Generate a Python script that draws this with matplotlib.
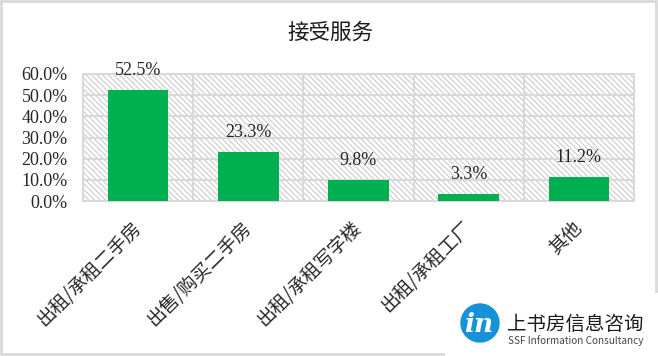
import matplotlib.pyplot as plt
import matplotlib.patches as patches
import matplotlib.ticker as ticker
import matplotlib.transforms as mtransforms

categories = ['出租/承租二手房', '出售/购买二手房', '出租/承租写字楼', '出租/承租工厂', '其他']
values = [52.5, 23.3, 9.8, 3.3, 11.2]
yticks = [0, 10, 20, 30, 40, 50, 60]

plt.rcParams['font.family'] = ['Noto Sans CJK SC', 'DejaVu Sans']
plt.rcParams['hatch.linewidth'] = 0.8
plt.rcParams['hatch.color'] = '#cccccc'

W, H = 658, 356
fig = plt.figure(figsize=(W / 100, H / 100), dpi=100)
ax = fig.add_axes([83 / W, 1 - 201 / H, 551 / W, 127 / H])

# hatched plot-area background
bg = patches.Rectangle((0, 0), 1, 1, transform=ax.transAxes, facecolor='white',
                       edgecolor='#cccccc', hatch='\\' * 6, linewidth=0, zorder=0)
ax.add_patch(bg)

x = list(range(len(categories)))
ax.bar(x, values, width=0.55, color='#00B050', zorder=3)
for xi, v in zip(x, values):
    ax.annotate(f'{v:.1f}%', (xi, v), xytext=(0, 8), textcoords='offset points',
                ha='center', va='bottom', fontsize=13, family=['Liberation Serif'],
                color='#262626', zorder=4)

ax.set_xlim(-0.5, len(categories) - 0.5)
ax.set_ylim(0, 60)
ax.set_yticks(yticks)
ax.yaxis.set_major_formatter(ticker.FuncFormatter(lambda v, p: f'{v:.1f}%'))
for lab in ax.get_yticklabels():
    lab.set_family(['Liberation Serif'])
    lab.set_fontsize(13)
    lab.set_color('#262626')

ax.set_xticks(x)
ax.set_xticklabels(categories, rotation=45, ha='right', va='center',
                   rotation_mode='anchor', fontsize=13.5, color='#262626',
                   fontweight='light')
shift = mtransforms.ScaledTranslation(-4 / 100, 0, fig.dpi_scale_trans)
for lab in ax.get_xticklabels():
    lab.set_transform(lab.get_transform() + shift)
ax.set_xticks([i - 0.5 for i in range(len(categories) + 1)], minor=True)
ax.tick_params(axis='both', which='both', length=0)
ax.tick_params(axis='y', pad=11)
ax.tick_params(axis='x', pad=17)

ax.grid(axis='y', which='major', color='#d9d9d9', linewidth=1.5, zorder=1)
ax.grid(axis='x', which='minor', color='#d9d9d9', linewidth=1.5, zorder=1)
ax.set_axisbelow(True)
for s in ax.spines.values():
    s.set_color('#d9d9d9')
    s.set_linewidth(1.5)

fig.text(330 / W, 1 - 33 / H, '接受服务', ha='center', va='center',
         fontsize=15.5, color='#1a1a1a')

# chart border
border = patches.Rectangle((1 / W, 2 / H), 655 / W, 353 / H,
                           transform=fig.transFigure, fill=False,
                           edgecolor='#d9d9d9', linewidth=2, zorder=-2)
cover = patches.Rectangle((445 / W, 0), 213 / W, 63 / H,
                          transform=fig.transFigure, facecolor='white',
                          edgecolor='none', zorder=-1)
fig.patches.extend([border, cover])

# logo
logo = fig.add_axes([460 / W, 1 - 343 / H, 40 / W, 40 / H], zorder=5)
logo.set_xlim(-1, 1)
logo.set_ylim(-1, 1)
logo.set_aspect('equal')
logo.axis('off')
logo.add_patch(patches.Circle((0, 0), 0.95, color='#1592d8'))
logo.text(-0.05, -0.08, 'in', ha='center', va='center', fontsize=19, color='white',
          fontstyle='italic', fontweight='bold', family=['DejaVu Serif'])
fig.text(507 / W, 1 - 324 / H, '上书房信息咨询', ha='left', va='center',
         fontsize=14, color='#1a1a1a', zorder=6)
fig.text(508 / W, 1 - 341 / H, 'SSF Information Consultancy', ha='left', va='center',
         fontsize=7.2, color='#444444', zorder=6)

fig.savefig('out.png', dpi=100)
